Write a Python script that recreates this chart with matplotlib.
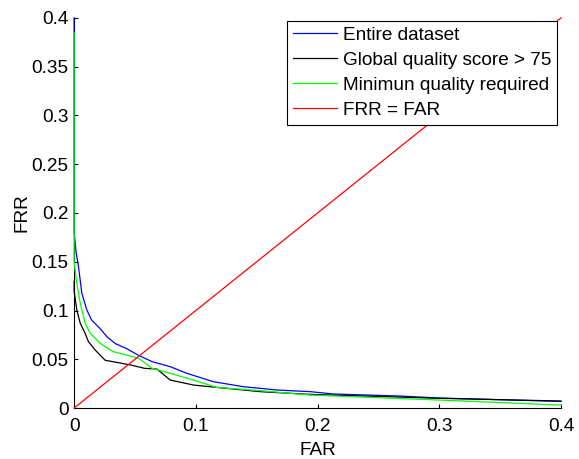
import matplotlib
matplotlib.use("Agg")
import matplotlib.pyplot as plt

plt.rcParams['font.family'] = ['Liberation Sans', 'DejaVu Sans']

# Entire dataset
far_all = [0.0, 0.0, 0.0016, 0.0036, 0.0063, 0.0104, 0.0145, 0.021, 0.027, 0.034, 0.043,
           0.053, 0.064, 0.079, 0.0926, 0.1145, 0.139, 0.1666, 0.194, 0.213, 0.268, 0.299, 0.4]
frr_all = [0.4, 0.18, 0.16, 0.145, 0.118, 0.1006, 0.090, 0.082, 0.073, 0.066, 0.061,
           0.054, 0.0476, 0.0424, 0.0356, 0.027, 0.0219, 0.0185, 0.0168, 0.0144, 0.0123, 0.0103, 0.0068]
# Global quality score > 75
far_q75 = [0.0, 0.0, 0.0022, 0.005, 0.009, 0.0118, 0.0173, 0.0255, 0.0364, 0.047, 0.058,
           0.068, 0.079, 0.098, 0.117, 0.153, 0.194, 0.3, 0.4]
frr_q75 = [0.13, 0.12, 0.1006, 0.087, 0.0767, 0.068, 0.0595, 0.049, 0.0465, 0.044, 0.0407,
           0.040, 0.0287, 0.0236, 0.0212, 0.0168, 0.014, 0.010, 0.0072]
# Minimum quality required
far_min = [0.0, 0.0, 0.0022, 0.005, 0.009, 0.0131, 0.021, 0.032, 0.043, 0.053, 0.064,
           0.079, 0.098, 0.117, 0.153, 0.194, 0.3, 0.4]
frr_min = [0.385, 0.15, 0.128, 0.108, 0.087, 0.077, 0.0667, 0.0578, 0.0544, 0.051, 0.0407,
           0.0356, 0.0287, 0.0212, 0.0178, 0.0133, 0.0082, 0.003]
# FRR = FAR
far_eer = [0.0, 0.4]
frr_eer = [0.0, 0.4]

labels = ['Entire dataset', 'Global quality score > 75', 'Minimun quality required', 'FRR = FAR']
xticks = [0, 0.1, 0.2, 0.3, 0.4]
xticklabels = ['0', '0.1', '0.2', '0.3', '0.4']
yticks = [0, 0.05, 0.1, 0.15, 0.2, 0.25, 0.3, 0.35, 0.4]
yticklabels = ['0', '0.05', '0.1', '0.15', '0.2', '0.25', '0.3', '0.35', '0.4']

fs = 13.7
fig = plt.figure(figsize=(5.79, 4.59), dpi=100)
ax = fig.add_axes([0.128, 0.111, 0.841, 0.850])
lw = 0.9
ax.plot(far_all, frr_all, color='#0000ff', lw=lw, label=labels[0], zorder=3, clip_on=False)
ax.plot(far_q75, frr_q75, color='#000000', lw=lw, label=labels[1], zorder=3, clip_on=False)
ax.plot(far_min, frr_min, color='#00ff00', lw=lw, label=labels[2], zorder=3, clip_on=False)
ax.plot(far_eer, frr_eer, color='#ff0000', lw=lw, label=labels[3], zorder=3, clip_on=False)

ax.set_xlim(0, 0.4)
ax.set_ylim(0, 0.4)
ax.set_xticks(xticks)
ax.set_xticklabels(xticklabels)
ax.set_yticks(yticks)
ax.set_yticklabels(yticklabels)
ax.tick_params(direction='in', length=3, width=0.8, labelsize=fs)
ax.tick_params(axis='y', pad=4)
ax.tick_params(axis='x', pad=7)
for s in ['top', 'right']:
    ax.spines[s].set_visible(False)
for s in ['left', 'bottom']:
    ax.spines[s].set_linewidth(0.8)
ax.set_xlabel('FAR', fontsize=fs, labelpad=5)
ax.set_ylabel('FRR', fontsize=fs, labelpad=1)

leg = ax.legend(loc='upper right', bbox_to_anchor=(0.992, 0.992), fontsize=fs,
                frameon=True, fancybox=False, edgecolor='black', framealpha=1,
                borderpad=0.3, labelspacing=0.4, handlelength=2.35, handletextpad=0.3,
                borderaxespad=0)
leg.get_frame().set_linewidth(0.8)
leg.set_zorder(5)

fig.savefig('out.png', dpi=100)
